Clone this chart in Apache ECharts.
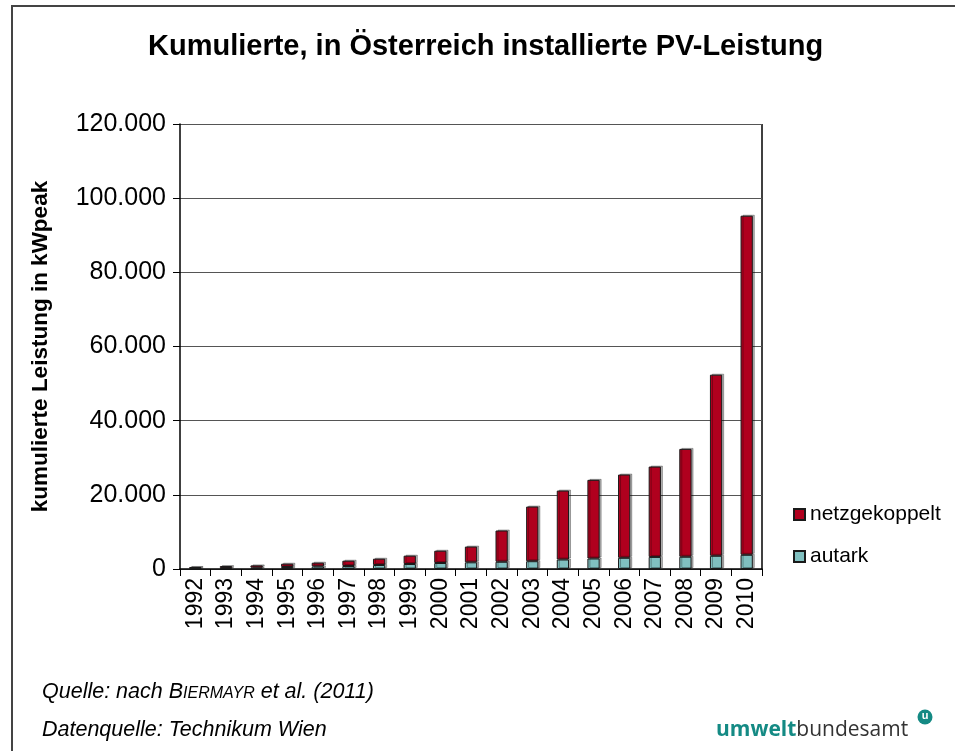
<!DOCTYPE html>
<html>
<head>
<meta charset="utf-8">
<script src="https://cdn.jsdelivr.net/npm/echarts@6/dist/echarts.min.js"></script>
<style>
  html, body { margin: 0; padding: 0; background: #fff; }
  #chart { width: 955px; height: 751px; }
</style>
</head>
<body>
<div id="chart"></div>
<script>
// ── Data (kWpeak) ──
const years = ['1992', '1993', '1994', '1995', '1996', '1997', '1998', '1999', '2000', '2001',
  '2002', '2003', '2004', '2005', '2006', '2007', '2008', '2009', '2010'];
const autark = [150, 250, 350, 540, 700, 810, 1080, 1350, 1620, 1800,
  1950, 2100, 2560, 2830, 3020, 3250, 3300, 3560, 3830];
const netzgekoppelt = [400, 550, 620, 890, 1000, 1430, 1700, 2240, 3310, 4250,
  8425, 14740, 18590, 21210, 22450, 24370, 29090, 48840, 91440];

const RED = '#b0001e';
const TEAL = '#80c0c0';
const LOGO = '#148a84';
const FONT = 'Liberation Sans, Arial, sans-serif';

const chart = echarts.init(document.getElementById('chart'));

function barStyle(color) {
  return {
    color: color,
    borderColor: '#1a1a1a',
    borderWidth: 1,
    shadowColor: 'rgba(0,0,0,0.3)',
    shadowOffsetX: 2,
    shadowOffsetY: -1,
    shadowBlur: 0,
  };
}

chart.setOption({
  backgroundColor: '#fff',
  animation: false,
  title: {
    text: 'Kumulierte, in Österreich installierte PV-Leistung',
    left: 143, top: 27,
    textStyle: { fontFamily: FONT, fontSize: 29, fontWeight: 'bold', color: '#000' },
  },
  legend: {
    data: ['netzgekoppelt', 'autark'],
    orient: 'vertical',
    left: 788, top: 499,
    itemWidth: 11, itemHeight: 11, itemGap: 21,
    icon: 'rect',
    textStyle: { fontFamily: FONT, fontSize: 21, color: '#000' },
  },
  grid: { left: 180, right: 193, top: 124, bottom: 182 },
  xAxis: {
    type: 'category',
    data: years,
    axisLine: { lineStyle: { color: '#000', width: 1.5 } },
    axisTick: { show: true, length: 7, lineStyle: { color: '#000' } },
    axisLabel: { rotate: 90, margin: 9, fontFamily: FONT, fontSize: 23, color: '#000' },
  },
  yAxis: {
    type: 'value',
    min: 0, max: 120000, interval: 20000,
    name: 'kumulierte Leistung in kWpeak',
    nameLocation: 'middle',
    nameGap: 128,
    nameTextStyle: { fontFamily: FONT, fontSize: 22.5, fontWeight: 'bold', color: '#000' },
    axisLine: { show: true, lineStyle: { color: '#000', width: 1.5 } },
    axisTick: { show: true, length: 7, lineStyle: { color: '#000' } },
    axisLabel: {
      margin: 14, fontFamily: FONT, fontSize: 25, color: '#000',
      formatter: v => v === 0 ? '0' : (v / 1000).toFixed(0) + '.000',
    },
    splitLine: { lineStyle: { color: '#555', width: 1 } },
  },
  series: [
    {
      name: 'autark', type: 'bar', stack: 'pv',
      barWidth: '40%',
      itemStyle: barStyle(TEAL),
      data: autark,
    },
    {
      name: 'netzgekoppelt', type: 'bar', stack: 'pv',
      barWidth: '40%',
      itemStyle: barStyle(RED),
      data: netzgekoppelt,
    },
  ],
  graphic: [
    // outer frame (only left and top edges visible)
    {
      type: 'polyline',
      shape: { points: [[12, 751], [12, 6], [955, 6]] },
      style: { stroke: '#444', lineWidth: 2, fill: null },
    },
    // right edge of plot area
    {
      type: 'line',
      shape: { x1: 762, y1: 124, x2: 762, y2: 569 },
      style: { stroke: '#000', lineWidth: 1.5 },
    },
    {
      type: 'text',
      left: 42, top: 681,
      style: {
        text: '{n|Quelle: nach B}{s|IERMAYR}{n| et al. (2011)}',
        rich: {
          n: { fontFamily: FONT, fontSize: 21.5, fontStyle: 'italic', fill: '#000' },
          s: { fontFamily: FONT, fontSize: 16, fontStyle: 'italic', fill: '#000', padding: [4, 0, 0, 0] },
        },
      },
    },
    {
      type: 'text',
      left: 42, top: 719,
      style: {
        text: 'Datenquelle: Technikum Wien',
        font: 'italic 21.5px ' + FONT,
        fill: '#000',
      },
    },
    // logo
    {
      type: 'text',
      left: 716, top: 720,
      style: {
        text: '{a|umwelt}{b|bundesamt}',
        rich: {
          a: { fontFamily: 'Open Sans, sans-serif', fontSize: 21, fontWeight: 'bold', fill: LOGO },
          b: { fontFamily: 'Open Sans, sans-serif', fontSize: 21, fontWeight: 'normal', fill: '#333' },
        },
      },
    },
    {
      type: 'circle',
      shape: { cx: 925, cy: 717, r: 7.5 },
      style: { fill: LOGO },
    },
    {
      type: 'text',
      x: 925, y: 716,
      style: {
        text: 'u', font: 'bold 11px ' + FONT, fill: '#fff',
        align: 'center', verticalAlign: 'middle',
      },
    },
  ],
});
</script>
</body>
</html>
